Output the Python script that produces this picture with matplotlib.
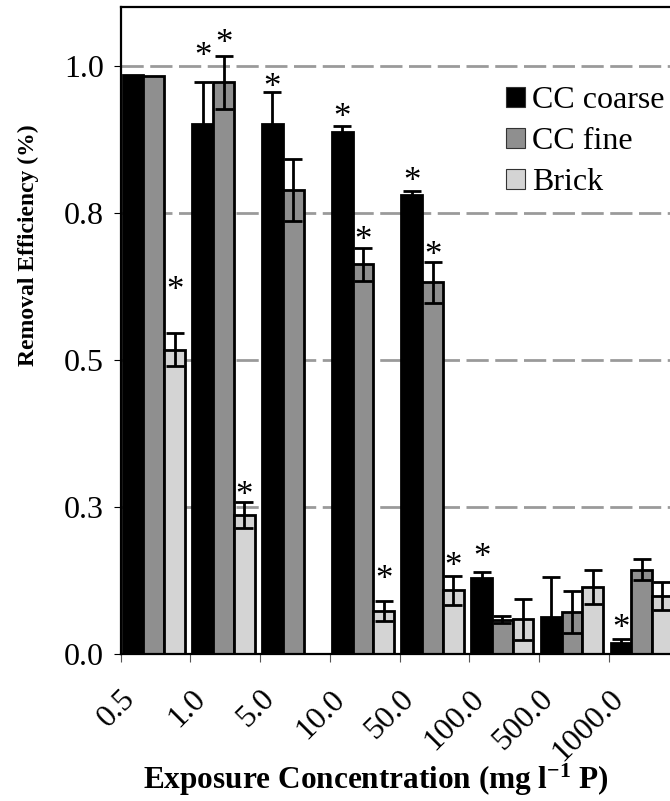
import numpy as np
import matplotlib
matplotlib.use('Agg')
import matplotlib.pyplot as plt
from matplotlib.patches import Patch

nan = np.nan
categories = ['0.5', '1.0', '5.0', '10.0', '50.0', '100.0', '500.0', '1000.0']
series_names = ['CC coarse', 'CC fine', 'Brick']
cc_coarse = [0.985, 0.901, 0.901, 0.888, 0.781, 0.130, 0.0635, 0.019]
cc_coarse_err = [0.0, 0.072, 0.054, 0.009, 0.006, 0.010, 0.067, 0.006]
cc_fine = [0.982, 0.972, 0.789, 0.663, 0.632, 0.058, 0.071, 0.143]
cc_fine_err = [0.0, 0.045, 0.053, 0.028, 0.035, 0.006, 0.036, 0.018]
brick = [0.517, 0.236, nan, 0.0737, 0.108, 0.059, 0.1145, 0.0986]
brick_err = [0.028, 0.022, nan, 0.017, 0.024, 0.035, 0.029, 0.024]
# height of the significance asterisk above each bar (NaN = no asterisk)
cc_coarse_star = [nan, 1.028, 0.976, 0.924, 0.815, 0.176, nan, 0.055]
cc_fine_star = [nan, 1.050, nan, 0.715, 0.690, nan, nan, nan]
brick_star = [0.631, 0.282, nan, 0.138, 0.161, nan, nan, nan]
ytick_values = [0.0, 0.25, 0.5, 0.75, 1.0]
ytick_labels = ['0.0', '0.3', '0.5', '0.8', '1.0']

colors = ['#000000', '#8f8f8f', '#d4d4d4']
SERIF = 'Liberation Serif'
plt.rcParams['font.family'] = [SERIF, 'DejaVu Serif']
plt.rcParams['mathtext.fontset'] = 'custom'
plt.rcParams['mathtext.rm'] = 'Liberation Serif:bold'
plt.rcParams['mathtext.bf'] = 'Liberation Serif:bold'
plt.rcParams['mathtext.it'] = 'Liberation Serif:bold'
plt.rcParams['mathtext.default'] = 'bf'
plt.rcParams['lines.scale_dashes'] = False

W, H = 670, 801
fig = plt.figure(figsize=(W / 100, H / 100), dpi=100)
left_px, bottom_px, top_px = 120.7, 654, 7
ax = fig.add_axes([left_px / W, (H - bottom_px) / H, 1 - left_px / W, (bottom_px - top_px) / H])

n = len(categories)
idx = np.arange(n)
bw = 0.298
center = 0.475
vals = [cc_coarse, cc_fine, brick]
errs = [cc_coarse_err, cc_fine_err, brick_err]
stars = [cc_coarse_star, cc_fine_star, brick_star]

for j in range(3):
    x = idx + center + (j - 1) * bw
    v = np.array(vals[j], dtype=float)
    e = np.array(errs[j], dtype=float)
    ax.bar(x, np.nan_to_num(v), width=bw, color=colors[j], edgecolor='black',
           linewidth=2, zorder=2)
    m = ~np.isnan(v) & (np.nan_to_num(e) > 0)
    ax.errorbar(x[m], v[m], yerr=e[m], fmt='none', ecolor='black', elinewidth=2,
                capsize=6.8, capthick=2, zorder=3)
    s = np.array(stars[j], dtype=float)
    for xi, si in zip(x, s):
        if not np.isnan(si):
            ax.annotate('*', (xi, si), xytext=(0, -12), textcoords='offset points',
                        ha='center', va='baseline', fontsize=25, family=SERIF, zorder=4)

ax.set_ylim(0, 1.1)
ax.set_xlim(0, (W - left_px) / 69.7)
ax.set_yticks(ytick_values)
ax.set_yticklabels(ytick_labels, fontsize=23, family=SERIF)
ax.set_xticks(idx)
ax.set_xticklabels(categories, rotation=45, ha='right', va='top', rotation_mode='anchor',
                   fontsize=23, family=SERIF)
ax.tick_params(axis='y', direction='out', length=5, width=0.8, pad=7)
ax.tick_params(axis='x', direction='out', length=6, width=0.8, pad=16, color='#555555')

ax.set_axisbelow(True)
ax.yaxis.grid(True, linestyle=(0, (16, 4.7)), color='#9a9a9a', linewidth=2)
ax.xaxis.grid(False)
for sp in ['left', 'bottom', 'top']:
    ax.spines[sp].set_linewidth(1.6)
    ax.spines[sp].set_color('black')
ax.spines['right'].set_visible(False)

fig.text(28 / W, 1 - 245 / H, 'Removal Efficiency (%)', rotation=90, ha='center', va='center',
         fontsize=17, fontweight='bold', family=SERIF)
fig.text(375.5 / W, 1 - 789 / H, r'Exposure Concentration (mg l$^{-1}$ P)', ha='center',
         va='baseline', fontsize=22.5, fontweight='bold', family=SERIF)

handles = [Patch(facecolor=c, edgecolor='#333333', linewidth=0.8) for c in colors]
fig.legend(handles, series_names, loc='upper left', bbox_to_anchor=(506 / W, 1 - 86 / H),
           frameon=False, prop={'family': SERIF, 'size': 23}, handlelength=0.6,
           handleheight=0.6, handletextpad=0.22, labelspacing=0.38, borderpad=0,
           borderaxespad=0)

fig.savefig('out.png', dpi=100)
